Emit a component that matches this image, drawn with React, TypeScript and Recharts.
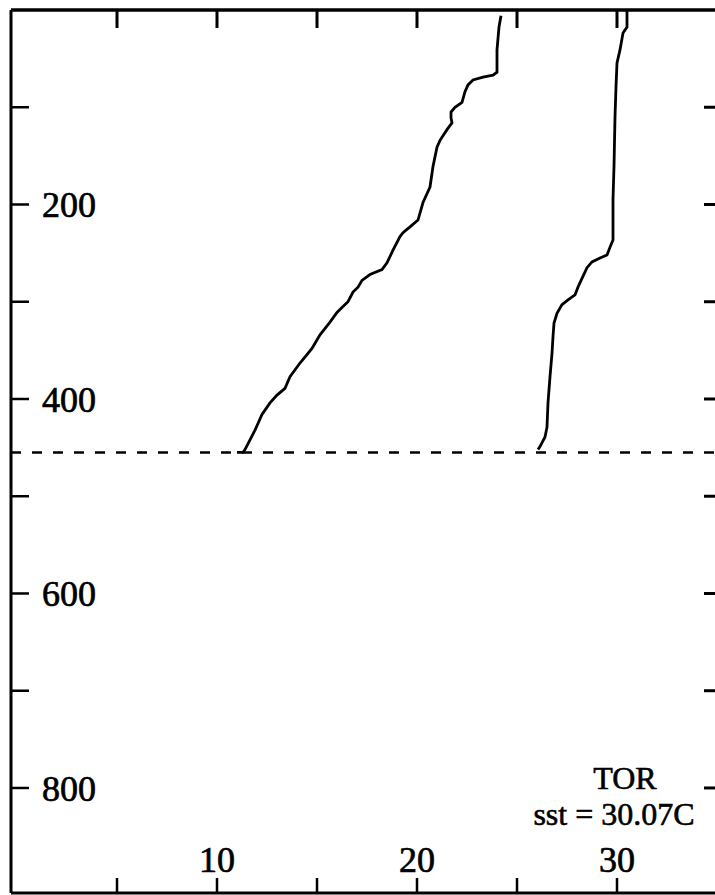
import { ComposedChart, Scatter, XAxis, YAxis, ReferenceLine } from 'recharts';

// profile A: left curve (temperature vs depth)
const profileATemp = [24.2, 24.1, 24.0, 24.0, 23.8, 23.3, 22.8, 22.55, 22.4, 22.25, 21.9, 21.7, 21.7, 21.75, 21.5, 21.15, 21.0, 20.8, 20.65, 20.3, 20.05, 19.65, 19.3, 19.15, 18.8, 18.5, 18.25, 17.65, 17.25, 17.05, 16.8, 16.55, 16.3, 16.0, 15.65, 15.15, 14.75, 14.15, 13.65, 13.4, 13.0, 12.65, 12.25, 11.9, 11.4, 11.3, 11.0];
const profileADepth = [6, 17.5, 41, 64, 67, 69, 72, 77, 84, 95, 100, 105, 111, 116, 123, 134, 141, 161, 182, 198, 216, 223, 229, 233, 247, 260, 267, 272, 278, 285, 290, 300, 305, 311, 321, 334, 348, 363, 377, 389, 396, 404, 416, 432, 452, 455, 455];

// profile B: right curve
const profileBTemp = [30.5, 30.5, 30.3, 30.15, 30.0, 29.95, 29.9, 29.85, 29.8, 29.8, 29.65, 29.5, 29.15, 28.75, 28.5, 28.25, 28.05, 27.9, 27.55, 27.25, 27.0, 26.85, 26.8, 26.75, 26.65, 26.55, 26.5, 26.4, 26.15, 26.05];
const profileBDepth = [0, 17.5, 23.6, 41, 54.5, 79, 110, 161, 195, 236.5, 244, 252, 255, 259, 265, 276, 285, 293, 298, 303, 312, 322, 336, 353, 377, 404, 429, 439, 449, 452];

const xTicks = [5, 10, 15, 20, 25, 30];
const yTicks = [100, 200, 300, 400, 500, 600, 700, 800];
const mixedLayerDepth = 455;
const station = 'TOR';
const sst = 'sst = 30.07C';

const zip = (t: number[], d: number[]) => t.map((v, i) => ({ t: v, d: d[i] }));
const profileA = zip(profileATemp, profileADepth);
const profileB = zip(profileBTemp, profileBDepth);

const FONT = '"Liberation Serif", "Times New Roman", serif';
const xDomain: [number, number] = [-0.3, 35.15];
const yDomain: [number, number] = [0, 908];

const noDot = () => <g />;
const blank = () => '';

export default function App() {
  const tickText = { fill: '#000', fontSize: 36, fontFamily: FONT, stroke: '#000', strokeWidth: 0.7 };
  const line = { stroke: '#000', strokeWidth: 3 };
  const profileLine = { stroke: '#000', strokeWidth: 2.8 };
  return (
    <div style={{ position: 'absolute', left: 0, top: 0, width: 715, height: 895, overflow: 'hidden', background: '#fff' }}>
      <ComposedChart width={740} height={895} margin={{ top: 9, left: 11, right: 19, bottom: 2 }}>
        <XAxis xAxisId="bottom" type="number" dataKey="t" domain={xDomain} allowDataOverflow ticks={xTicks} interval={0}
          orientation="bottom" mirror tickSize={15} tickMargin={6} axisLine={line}
          tickLine={{ stroke: '#000', strokeWidth: 2.5 }} tick={tickText}
          tickFormatter={(v: number) => (v % 10 === 0 ? String(v) : '')} />
        {/* top and right frame: 1px axes, negative tick size turns the ticks inward */}
        <XAxis xAxisId="top" type="number" dataKey="t" domain={xDomain} allowDataOverflow ticks={xTicks} interval={0}
          orientation="top" height={1} tickSize={-18} axisLine={{ stroke: '#000', strokeWidth: 3.5 }}
          tickLine={{ stroke: '#000', strokeWidth: 3 }} tick={{ fill: 'none' }} tickFormatter={blank} />
        <YAxis yAxisId="left" type="number" dataKey="d" domain={yDomain} allowDataOverflow reversed ticks={yTicks} interval={0}
          orientation="left" mirror tickSize={18} tickMargin={13} axisLine={line}
          tickLine={{ stroke: '#000', strokeWidth: 2.5 }} tick={tickText}
          tickFormatter={(v: number) => (v % 200 === 0 ? String(v) : '')} />
        <YAxis yAxisId="right" type="number" dataKey="d" domain={yDomain} allowDataOverflow reversed ticks={yTicks} interval={0}
          orientation="right" width={1} tickSize={-16} axisLine={line}
          tickLine={{ stroke: '#000', strokeWidth: 3 }} tick={{ fill: 'none' }} tickFormatter={blank} />
        <ReferenceLine xAxisId="bottom" yAxisId="left" y={mixedLayerDepth} stroke="#000" strokeWidth={2.5} strokeDasharray="10 11" />
        <Scatter xAxisId="bottom" yAxisId="left" data={profileA} line={profileLine} shape={noDot} isAnimationActive={false} />
        <Scatter xAxisId="bottom" yAxisId="left" data={profileB} line={profileLine} shape={noDot} isAnimationActive={false} />
        <Scatter xAxisId="top" yAxisId="right" data={profileB} shape={noDot} isAnimationActive={false} />
      </ComposedChart>
      <svg width={715} height={895} style={{ position: 'absolute', left: 0, top: 0, pointerEvents: 'none' }}>
        <text x={625} y={789} textAnchor="middle" fontFamily={FONT} fontSize={32} fill="#000" stroke="#000" strokeWidth={0.6}>{station}</text>
        <text x={614} y={825} textAnchor="middle" fontFamily={FONT} fontSize={32} fill="#000" stroke="#000" strokeWidth={0.6}>{sst}</text>
      </svg>
    </div>
  );
}
